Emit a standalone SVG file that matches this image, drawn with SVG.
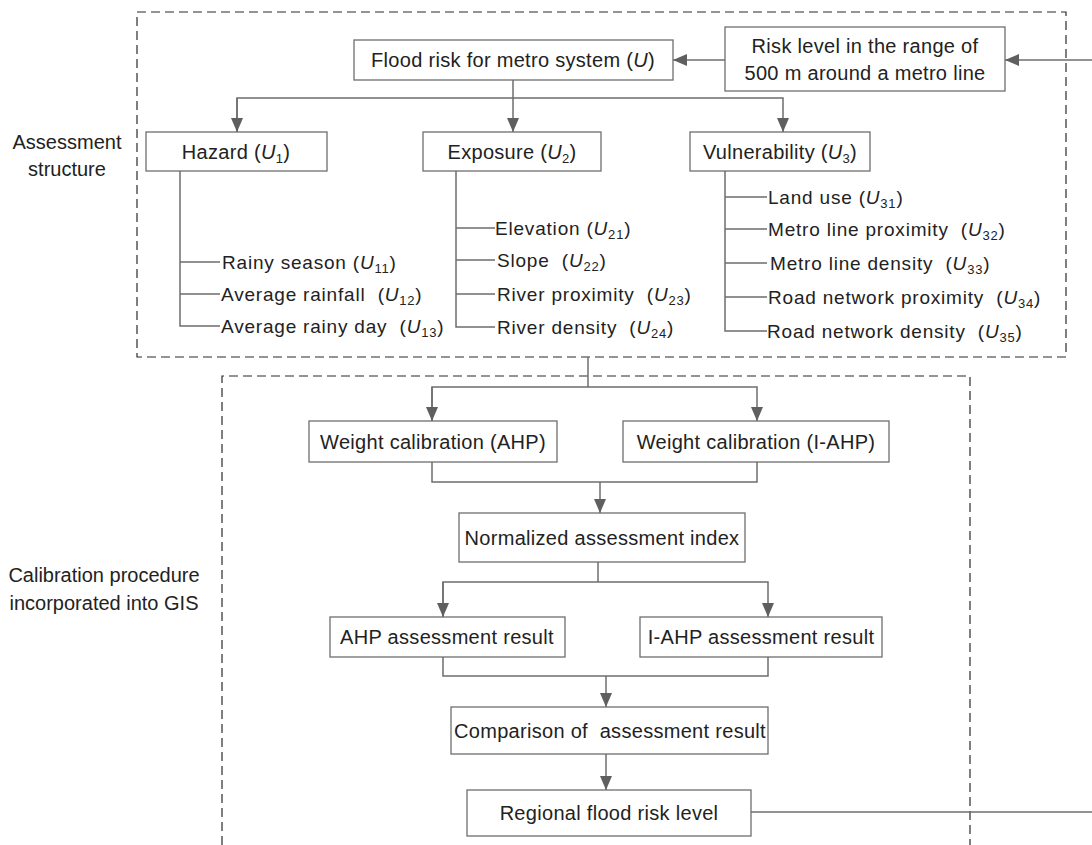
<svg xmlns="http://www.w3.org/2000/svg" width="1092" height="845" viewBox="0 0 1092 845">
<style>
.box{fill:#fff;stroke:#6e6e6e;stroke-width:1.3}
.dash{fill:none;stroke:#2a2a2a;stroke-width:1.2;stroke-dasharray:9 5}
.ln{fill:none;stroke:#6e6e6e;stroke-width:1.5}
.t{font-family:"Liberation Sans",Arial,sans-serif;font-size:20px;letter-spacing:0.3px;fill:#222;text-anchor:middle;white-space:pre}
.b{font-family:"Liberation Sans",Arial,sans-serif;font-size:19px;letter-spacing:0.8px;fill:#222;white-space:pre}
.lab{font-family:"Liberation Sans",Arial,sans-serif;font-size:20px;fill:#222;text-anchor:middle}
.i{font-style:italic}
.s{font-size:13px}
</style>
<defs>
<marker id="ah" markerUnits="userSpaceOnUse" markerWidth="14" markerHeight="12" refX="14" refY="6" orient="auto">
<path d="M0,0 L14,6 L0,12 z" fill="#5f5f5f"/>
</marker>
</defs>
<rect class="dash" x="137" y="12" width="929" height="345"/>
<path class="dash" d="M222,845 V376 H970 V845"/>
<text class="lab" x="67" y="149">Assessment</text>
<text class="lab" x="67" y="176">structure</text>
<text class="lab" x="104" y="582">Calibration procedure</text>
<text class="lab" x="104" y="610">incorporated into GIS</text>
<g id="connectors">
<path class="ln" d="M1092,60 H1005" marker-end="url(#ah)"/>
<path class="ln" d="M725,60 H673" marker-end="url(#ah)"/>
<path class="ln" d="M513,80 V132" marker-end="url(#ah)"/>
<path class="ln" d="M237,132 V98 H783 V132" marker-end="url(#ah)"/>
<path class="ln" d="M237,98 V132" marker-end="url(#ah)"/>
<path class="ln" d="M180,171 V326 H220 M180,262 H220 M180,294 H220"/>
<path class="ln" d="M456,171 V327 H495 M456,228 H495 M456,260 H495 M456,294 H495"/>
<path class="ln" d="M725,171 V331 H767 M725,197 H767 M725,229 H767 M725,263 H767 M725,297 H767"/>
<path class="ln" d="M588,357 V387"/>
<path class="ln" d="M432,421 V387 H757 V421" marker-end="url(#ah)"/>
<path class="ln" d="M432,387 V421" marker-end="url(#ah)"/>
<path class="ln" d="M432,462 V482 H757 V462"/>
<path class="ln" d="M600,482 V513" marker-end="url(#ah)"/>
<path class="ln" d="M598,562 V582"/>
<path class="ln" d="M443,617 V582 H768 V617" marker-end="url(#ah)"/>
<path class="ln" d="M443,582 V617" marker-end="url(#ah)"/>
<path class="ln" d="M443,657 V676 H768 V657"/>
<path class="ln" d="M606,676 V707" marker-end="url(#ah)"/>
<path class="ln" d="M606,754 V790" marker-end="url(#ah)"/>
<path class="ln" d="M751,812 H1092"/>
</g>
<g id="n-flood"><rect class="box" x="354" y="40" width="319" height="40"/>
<text class="t" x="513" y="67">Flood risk for metro system (<tspan class="i">U</tspan>)</text></g>
<g id="n-risk"><rect class="box" x="725" y="27" width="280" height="64"/>
<text class="t" x="865" y="53">Risk level in the range of</text>
<text class="t" x="865" y="80">500 m around a metro line</text></g>
<g id="n-hazard"><rect class="box" x="146" y="132" width="181" height="39"/>
<text class="t" x="236" y="159">Hazard (<tspan class="i">U</tspan><tspan class="s" dy="4">1</tspan><tspan dy="-4">)</tspan></text></g>
<g id="n-exposure"><rect class="box" x="423" y="132" width="178" height="39"/>
<text class="t" x="512" y="159">Exposure (<tspan class="i">U</tspan><tspan class="s" dy="4">2</tspan><tspan dy="-4">)</tspan></text></g>
<g id="n-vuln"><rect class="box" x="690" y="132" width="180" height="39"/>
<text class="t" x="780" y="159">Vulnerability (<tspan class="i">U</tspan><tspan class="s" dy="4">3</tspan><tspan dy="-4">)</tspan></text></g>
<g id="n-hazard-items">
<text class="b" x="222" y="269">Rainy season (<tspan class="i">U</tspan><tspan class="s" dy="4">11</tspan><tspan dy="-4">)</tspan></text>
<text class="b" x="221" y="301">Average rainfall  (<tspan class="i">U</tspan><tspan class="s" dy="4">12</tspan><tspan dy="-4">)</tspan></text>
<text class="b" x="221" y="333">Average rainy day  (<tspan class="i">U</tspan><tspan class="s" dy="4">13</tspan><tspan dy="-4">)</tspan></text>
</g>
<g id="n-exposure-items">
<text class="b" x="495" y="235">Elevation (<tspan class="i">U</tspan><tspan class="s" dy="4">21</tspan><tspan dy="-4">)</tspan></text>
<text class="b" x="497" y="267">Slope  (<tspan class="i">U</tspan><tspan class="s" dy="4">22</tspan><tspan dy="-4">)</tspan></text>
<text class="b" x="497" y="301">River proximity  (<tspan class="i">U</tspan><tspan class="s" dy="4">23</tspan><tspan dy="-4">)</tspan></text>
<text class="b" x="497" y="334">River density  (<tspan class="i">U</tspan><tspan class="s" dy="4">24</tspan><tspan dy="-4">)</tspan></text>
</g>
<g id="n-vuln-items">
<text class="b" x="768" y="204">Land use (<tspan class="i">U</tspan><tspan class="s" dy="4">31</tspan><tspan dy="-4">)</tspan></text>
<text class="b" x="768" y="236">Metro line proximity  (<tspan class="i">U</tspan><tspan class="s" dy="4">32</tspan><tspan dy="-4">)</tspan></text>
<text class="b" x="770" y="270">Metro line density  (<tspan class="i">U</tspan><tspan class="s" dy="4">33</tspan><tspan dy="-4">)</tspan></text>
<text class="b" x="768" y="304">Road network proximity  (<tspan class="i">U</tspan><tspan class="s" dy="4">34</tspan><tspan dy="-4">)</tspan></text>
<text class="b" x="767" y="338">Road network density  (<tspan class="i">U</tspan><tspan class="s" dy="4">35</tspan><tspan dy="-4">)</tspan></text>
</g>
<g id="n-wahp"><rect class="box" x="309" y="421" width="248" height="41"/>
<text class="t" x="433" y="449">Weight calibration (AHP)</text></g>
<g id="n-wiahp"><rect class="box" x="623" y="421" width="266" height="41"/>
<text class="t" x="756" y="449">Weight calibration (I-AHP)</text></g>
<g id="n-norm"><rect class="box" x="459" y="513" width="286" height="49"/>
<text class="t" x="602" y="545">Normalized assessment index</text></g>
<g id="n-ahpres"><rect class="box" x="330" y="617" width="235" height="40"/>
<text class="t" x="447" y="644">AHP assessment result</text></g>
<g id="n-iahpres"><rect class="box" x="640" y="617" width="242" height="40"/>
<text class="t" x="761" y="644">I-AHP assessment result</text></g>
<g id="n-comp"><rect class="box" x="451" y="707" width="317" height="47"/>
<text class="t" x="610" y="738">Comparison of  assessment result</text></g>
<g id="n-regional"><rect class="box" x="467" y="790" width="284" height="46"/>
<text class="t" x="609" y="820">Regional flood risk level</text></g>
</svg>
